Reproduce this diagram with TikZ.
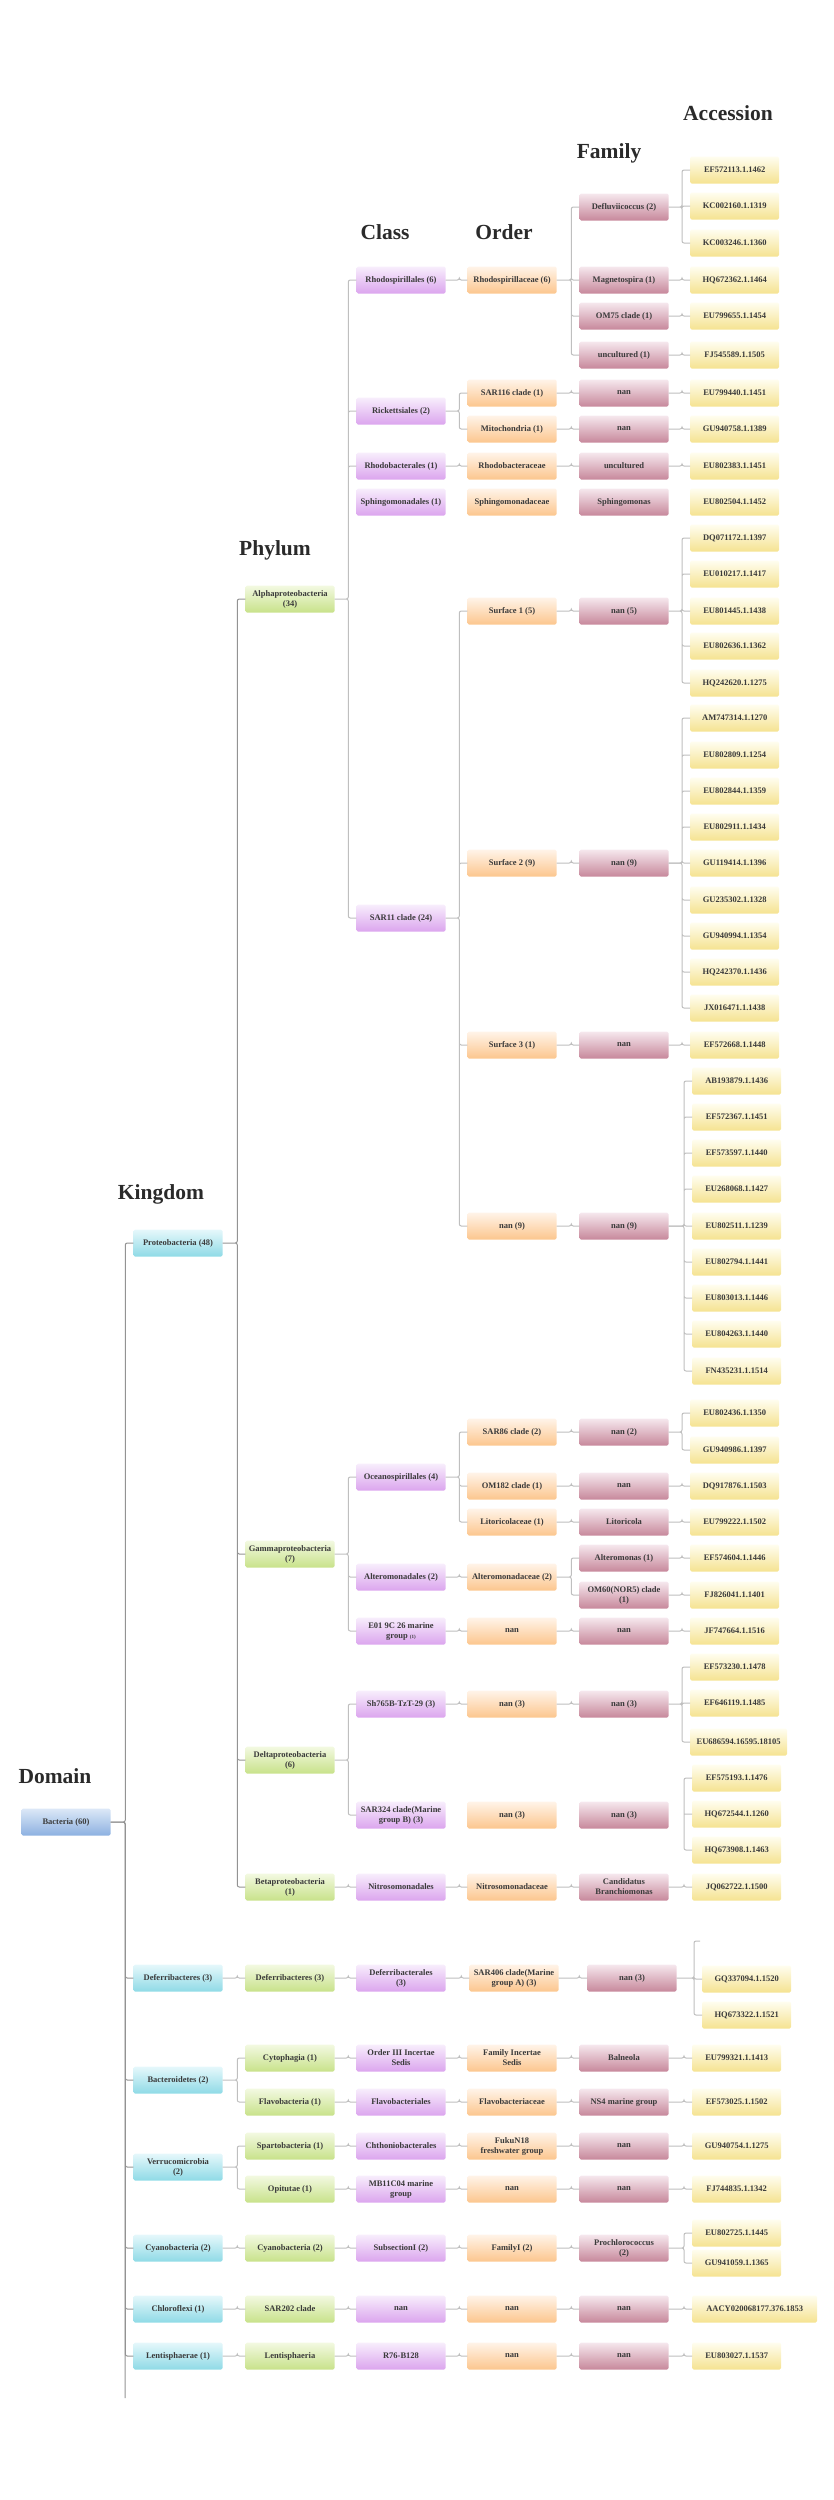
\documentclass[tikz,border=0pt]{standalone}
\usepackage{fontspec}
\setmainfont{Liberation Serif}
\definecolor{txtc}{HTML}{3A3A3A}
\definecolor{headc}{HTML}{2A2A2A}
\definecolor{domt}{HTML}{DCE8F7}
\definecolor{domb}{HTML}{8DB1E1}
\definecolor{kngt}{HTML}{E6F8FB}
\definecolor{kngb}{HTML}{8FDAE6}
\definecolor{phyt}{HTML}{F3F9E2}
\definecolor{phyb}{HTML}{C8E28A}
\definecolor{clst}{HTML}{F8EEFC}
\definecolor{clsb}{HTML}{DBA5EE}
\definecolor{ordt}{HTML}{FFF4E9}
\definecolor{ordb}{HTML}{FCC68E}
\definecolor{famt}{HTML}{F6E8EE}
\definecolor{famb}{HTML}{C7889B}
\definecolor{acct}{HTML}{FFFDF0}
\definecolor{accb}{HTML}{F5E391}

\begin{document}
\begin{tikzpicture}[x=1pt,y=-1pt,
  box/.style={rectangle,rounded corners=1.5pt,minimum width=89pt,minimum height=27pt,inner xsep=2pt,inner ysep=1pt,align=center,text=txtc,font=\bfseries\fontsize{8.5}{10}\selectfont},
  dom/.style={box,top color=domt,bottom color=domb},
  kng/.style={box,top color=kngt,bottom color=kngb},
  phy/.style={box,top color=phyt,bottom color=phyb},
  cls/.style={box,top color=clst,bottom color=clsb},
  ord/.style={box,top color=ordt,bottom color=ordb},
  fam/.style={box,top color=famt,bottom color=famb},
  acc/.style={box,anchor=west,top color=acct,bottom color=accb},
  head/.style={text=headc,font=\bfseries\fontsize{21.5}{24}\selectfont},
  link/.style={draw=gray!50,line width=1pt,rounded corners=2pt},
  trunk/.style={link,draw=gray!85},
  elb/.style={to path={-| ([xshift=-8pt]\tikztotarget.west) -- (\tikztotarget.west)}}]

\useasboundingbox (0,0) rectangle (833,2500);

\node[head] (hacc) at (728,113) {Accession};
\node[head] (hfam) at (609,153) {Family};
\node[head] (hcls) at (385,232) {Class};
\node[head] (hord) at (504,232) {Order};
\node[head] (hphy) at (275,550) {Phylum};
\node[head] (hkng) at (161,1194) {Kingdom};
\node[head] (hdom) at (55,1776) {Domain};

% domain and kingdom
\node[dom] (bac) at (66,1822) {Bacteria (60)};
\node[kng] (prot) at (178,1243) {Proteobacteria (48)};
\node[kng] (defk) at (178,1978) {Deferribacteres (3)};
\node[kng] (bact) at (178,2080) {Bacteroidetes (2)};
\node[kng] (verr) at (178,2167) {Verrucomicrobia\\(2)};
\node[kng] (cyak) at (178,2248) {Cyanobacteria (2)};
\node[kng] (chlo) at (178,2309) {Chloroflexi (1)};
\node[kng] (lent) at (178,2356) {Lentisphaerae (1)};
\coordinate (kend) at (125,2398);

% phylum
\node[phy] (alpha) at (290,599) {Alphaproteobacteria\\(34)};
\node[phy] (gamma) at (290,1554) {Gammaproteobacteria\\(7)};
\node[phy] (delta) at (290,1760) {Deltaproteobacteria\\(6)};
\node[phy] (beta) at (290,1887) {Betaproteobacteria\\(1)};
\node[phy] (defp) at (290,1978) {Deferribacteres (3)};
\node[phy] (cyto) at (290,2058) {Cytophagia (1)};
\node[phy] (flavo) at (290,2102) {Flavobacteria (1)};
\node[phy] (sparto) at (290,2146) {Spartobacteria (1)};
\node[phy] (opit) at (290,2189) {Opitutae (1)};
\node[phy] (cyap) at (290,2248) {Cyanobacteria (2)};
\node[phy] (sar202) at (290,2309) {SAR202 clade};
\node[phy] (lentp) at (290,2356) {Lentisphaeria};

% class
\node[cls] (rhsp) at (401,280) {Rhodospirillales (6)};
\node[cls] (rick) at (401,411) {Rickettsiales (2)};
\node[cls] (rhdb) at (401,466) {Rhodobacterales (1)};
\node[cls] (sphi) at (401,502) {Sphingomonadales (1)};
\node[cls] (sar11) at (401,918) {SAR11 clade (24)};
\node[cls] (ocea) at (401,1477) {Oceanospirillales (4)};
\node[cls] (alte) at (401,1577) {Alteromonadales (2)};
\node[cls] (e01) at (401,1631) {E01 9C 26 marine\\group {\fontsize{5}{6}\selectfont(1)}};
\node[cls] (sh765) at (401,1704) {Sh765B-TzT-29 (3)};
\node[cls] (sar324) at (401,1815) {SAR324 clade(Marine\\group B) (3)};
\node[cls] (nitro) at (401,1887) {Nitrosomonadales};
\node[cls] (defc) at (401,1978) {Deferribacterales\\(3)};
\node[cls] (ord3) at (401,2058) {Order III Incertae\\Sedis};
\node[cls] (flavc) at (401,2102) {Flavobacteriales};
\node[cls] (chth) at (401,2146) {Chthoniobacterales};
\node[cls] (mb11) at (401,2189) {MB11C04 marine\\group};
\node[cls] (subs) at (401,2248) {SubsectionI (2)};
\node[cls] (chlc) at (401,2309) {nan};
\node[cls] (r76) at (401,2356) {R76-B128};

% order
\node[ord] (rhspo) at (512,280) {Rhodospirillaceae (6)};
\node[ord] (sar116) at (512,393) {SAR116 clade (1)};
\node[ord] (mito) at (512,429) {Mitochondria (1)};
\node[ord] (rhdbo) at (512,466) {Rhodobacteraceae};
\node[ord] (sphio) at (512,502) {Sphingomonadaceae};
\node[ord] (surf1) at (512,611) {Surface 1 (5)};
\node[ord] (surf2) at (512,863) {Surface 2 (9)};
\node[ord] (surf3) at (512,1045) {Surface 3 (1)};
\node[ord] (nan9o) at (512,1226) {nan (9)};
\node[ord] (sar86) at (512,1432) {SAR86 clade (2)};
\node[ord] (om182) at (512,1486) {OM182 clade (1)};
\node[ord] (lito) at (512,1522) {Litoricolaceae (1)};
\node[ord] (alteo) at (512,1577) {Alteromonadaceae (2)};
\node[ord] (e01o) at (512,1631) {nan};
\node[ord] (sh765o) at (512,1704) {nan (3)};
\node[ord] (sar324o) at (512,1815) {nan (3)};
\node[ord] (nitroo) at (512,1887) {Nitrosomonadaceae};
\node[ord] (sar406) at (514,1978) {SAR406 clade(Marine\\group A) (3)};
\node[ord] (famis) at (512,2058) {Family Incertae\\Sedis};
\node[ord] (flavoo) at (512,2102) {Flavobacteriaceae};
\node[ord] (fuku) at (512,2146) {FukuN18\\freshwater group};
\node[ord] (mb11o) at (512,2189) {nan};
\node[ord] (fam1) at (512,2248) {FamilyI (2)};
\node[ord] (chlo2) at (512,2309) {nan};
\node[ord] (lento) at (512,2356) {nan};

% family
\node[fam] (defl) at (624,207) {Defluviicoccus (2)};
\node[fam] (magn) at (624,280) {Magnetospira (1)};
\node[fam] (om75) at (624,316) {OM75 clade (1)};
\node[fam] (uncu) at (624,355) {uncultured (1)};
\node[fam] (sar116f) at (624,393) {nan};
\node[fam] (mitof) at (624,429) {nan};
\node[fam] (uncu2) at (624,466) {uncultured};
\node[fam] (sphif) at (624,502) {Sphingomonas};
\node[fam] (surf1f) at (624,611) {nan (5)};
\node[fam] (surf2f) at (624,863) {nan (9)};
\node[fam] (surf3f) at (624,1045) {nan};
\node[fam] (nan9f) at (624,1226) {nan (9)};
\node[fam] (sar86f) at (624,1432) {nan (2)};
\node[fam] (om182f) at (624,1486) {nan};
\node[fam] (litof) at (624,1522) {Litoricola};
\node[fam] (altef) at (624,1558) {Alteromonas (1)};
\node[fam] (om60) at (624,1595) {OM60(NOR5) clade\\(1)};
\node[fam] (e01f) at (624,1631) {nan};
\node[fam] (sh765f) at (624,1704) {nan (3)};
\node[fam] (sar324f) at (624,1815) {nan (3)};
\node[fam] (cand) at (624,1887) {Candidatus\\Branchiomonas};
\node[fam] (sar406f) at (632,1978) {nan (3)};
\node[fam] (baln) at (624,2058) {Balneola};
\node[fam] (ns4) at (624,2102) {NS4 marine group};
\node[fam] (fukuf) at (624,2146) {nan};
\node[fam] (mb11f) at (624,2189) {nan};
\node[fam] (proc) at (624,2248) {Prochlorococcus\\(2)};
\node[fam] (chlf) at (624,2309) {nan};
\node[fam] (lentf) at (624,2356) {nan};

% accession
\node[acc] (a1) at (690,170) {EF572113.1.1462};
\node[acc] (a2) at (690,206) {KC002160.1.1319};
\node[acc] (a3) at (690,243) {KC003246.1.1360};
\node[acc] (a4) at (690,280) {HQ672362.1.1464};
\node[acc] (a5) at (690,316) {EU799655.1.1454};
\node[acc] (a6) at (690,355) {FJ545589.1.1505};
\node[acc] (a7) at (690,393) {EU799440.1.1451};
\node[acc] (a8) at (690,429) {GU940758.1.1389};
\node[acc] (a9) at (690,466) {EU802383.1.1451};
\node[acc] (a10) at (690,502) {EU802504.1.1452};
\node[acc] (a11) at (690,538) {DQ071172.1.1397};
\node[acc] (a12) at (690,574) {EU010217.1.1417};
\node[acc] (a13) at (690,611) {EU801445.1.1438};
\node[acc] (a14) at (690,646) {EU802636.1.1362};
\node[acc] (a15) at (690,683) {HQ242620.1.1275};
\node[acc] (a16) at (690,718) {AM747314.1.1270};
\node[acc] (a17) at (690,755) {EU802809.1.1254};
\node[acc] (a18) at (690,791) {EU802844.1.1359};
\node[acc] (a19) at (690,827) {EU802911.1.1434};
\node[acc] (a20) at (690,863) {GU119414.1.1396};
\node[acc] (a21) at (690,900) {GU235302.1.1328};
\node[acc] (a22) at (690,936) {GU940994.1.1354};
\node[acc] (a23) at (690,972) {HQ242370.1.1436};
\node[acc] (a24) at (690,1008) {JX016471.1.1438};
\node[acc] (a25) at (690,1045) {EF572668.1.1448};
\node[acc] (a26) at (692,1081) {AB193879.1.1436};
\node[acc] (a27) at (692,1117) {EF572367.1.1451};
\node[acc] (a28) at (692,1153) {EF573597.1.1440};
\node[acc] (a29) at (692,1189) {EU268068.1.1427};
\node[acc] (a30) at (692,1226) {EU802511.1.1239};
\node[acc] (a31) at (692,1262) {EU802794.1.1441};
\node[acc] (a32) at (692,1298) {EU803013.1.1446};
\node[acc] (a33) at (692,1334) {EU804263.1.1440};
\node[acc] (a34) at (692,1371) {FN435231.1.1514};
\node[acc] (a35) at (690,1413) {EU802436.1.1350};
\node[acc] (a36) at (690,1450) {GU940986.1.1397};
\node[acc] (a37) at (690,1486) {DQ917876.1.1503};
\node[acc] (a38) at (690,1522) {EU799222.1.1502};
\node[acc] (a39) at (690,1558) {EF574604.1.1446};
\node[acc] (a40) at (690,1595) {FJ826041.1.1401};
\node[acc] (a41) at (690,1631) {JF747664.1.1516};
\node[acc] (a42) at (690,1667) {EF573230.1.1478};
\node[acc] (a43) at (690,1703) {EF646119.1.1485};
\node[acc,minimum width=97pt] (a44) at (690,1742) {EU686594.16595.18105};
\node[acc] (a45) at (692,1778) {EF575193.1.1476};
\node[acc] (a46) at (692,1814) {HQ672544.1.1260};
\node[acc] (a47) at (692,1850) {HQ673908.1.1463};
\node[acc] (a48) at (692,1887) {JQ062722.1.1500};
\coordinate (a00) at (700,1941);
\node[acc] (a49) at (702,1979) {GQ337094.1.1520};
\node[acc] (a50) at (702,2015) {HQ673322.1.1521};
\node[acc] (a51) at (692,2058) {EU799321.1.1413};
\node[acc] (a52) at (692,2102) {EF573025.1.1502};
\node[acc] (a53) at (692,2146) {GU940754.1.1275};
\node[acc] (a54) at (692,2189) {FJ744835.1.1342};
\node[acc] (a55) at (692,2233) {EU802725.1.1445};
\node[acc] (a56) at (692,2263) {GU941059.1.1365};
\node[acc,minimum width=125pt] (a57) at (692,2309) {AACY020068177.376.1853};
\node[acc] (a58) at (692,2356) {EU803027.1.1537};

% domain -> kingdom -> phylum
\draw[trunk] (bac.east) -| (kend);
\draw[trunk] (bac.east) to[elb] (prot) (bac.east) to[elb] (defk) (bac.east) to[elb] (bact) (bac.east) to[elb] (verr) (bac.east) to[elb] (cyak) (bac.east) to[elb] (chlo) (bac.east) to[elb] (lent);
\draw[trunk] (prot.east) to[elb] (alpha) (prot.east) to[elb] (gamma) (prot.east) to[elb] (delta) (prot.east) to[elb] (beta);
\draw[link] (defk.east) to[elb] (defp) (bact.east) to[elb] (cyto) (bact.east) to[elb] (flavo) (verr.east) to[elb] (sparto) (verr.east) to[elb] (opit);
\draw[link] (cyak.east) to[elb] (cyap) (chlo.east) to[elb] (sar202) (lent.east) to[elb] (lentp);

% Alphaproteobacteria
\draw[link] (alpha.east) to[elb] (rhsp) (alpha.east) to[elb] (rick) (alpha.east) to[elb] (rhdb) (alpha.east) to[elb] (sar11);
\draw[link] (rhsp.east) to[elb] (rhspo);
\draw[link] (rhspo.east) to[elb] (defl) (rhspo.east) to[elb] (magn) (rhspo.east) to[elb] (om75) (rhspo.east) to[elb] (uncu);
\draw[link] (defl.east) to[elb] (a1) (defl.east) to[elb] (a2) (defl.east) to[elb] (a3);
\draw[link] (magn.east) to[elb] (a4) (om75.east) to[elb] (a5) (uncu.east) to[elb] (a6);
\draw[link] (rick.east) to[elb] (sar116) (rick.east) to[elb] (mito);
\draw[link] (sar116.east) to[elb] (sar116f) (sar116f.east) to[elb] (a7);
\draw[link] (mito.east) to[elb] (mitof) (mitof.east) to[elb] (a8);
\draw[link] (rhdb.east) to[elb] (rhdbo) (rhdbo.east) to[elb] (uncu2) (uncu2.east) to[elb] (a9);
\draw[link] (sar11.east) to[elb] (surf1) (sar11.east) to[elb] (surf2) (sar11.east) to[elb] (surf3) (sar11.east) to[elb] (nan9o);
\draw[link] (surf1.east) to[elb] (surf1f);
\draw[link] (surf1f.east) to[elb] (a11) (surf1f.east) to[elb] (a12) (surf1f.east) to[elb] (a13) (surf1f.east) to[elb] (a14) (surf1f.east) to[elb] (a15);
\draw[link] (surf2.east) to[elb] (surf2f);
\draw[link] (surf2f.east) to[elb] (a16) (surf2f.east) to[elb] (a17) (surf2f.east) to[elb] (a18) (surf2f.east) to[elb] (a19) (surf2f.east) to[elb] (a20);
\draw[link] (surf2f.east) to[elb] (a21) (surf2f.east) to[elb] (a22) (surf2f.east) to[elb] (a23) (surf2f.east) to[elb] (a24);
\draw[link] (surf3.east) to[elb] (surf3f) (surf3f.east) to[elb] (a25);
\draw[link] (nan9o.east) to[elb] (nan9f);
\draw[link] (nan9f.east) to[elb] (a26) (nan9f.east) to[elb] (a27) (nan9f.east) to[elb] (a28) (nan9f.east) to[elb] (a29) (nan9f.east) to[elb] (a30);
\draw[link] (nan9f.east) to[elb] (a31) (nan9f.east) to[elb] (a32) (nan9f.east) to[elb] (a33) (nan9f.east) to[elb] (a34);

% Gammaproteobacteria
\draw[link] (gamma.east) to[elb] (ocea) (gamma.east) to[elb] (alte) (gamma.east) to[elb] (e01);
\draw[link] (ocea.east) to[elb] (sar86) (ocea.east) to[elb] (om182) (ocea.east) to[elb] (lito);
\draw[link] (sar86.east) to[elb] (sar86f) (sar86f.east) to[elb] (a35) (sar86f.east) to[elb] (a36);
\draw[link] (om182.east) to[elb] (om182f) (om182f.east) to[elb] (a37);
\draw[link] (lito.east) to[elb] (litof) (litof.east) to[elb] (a38);
\draw[link] (alte.east) to[elb] (alteo) (alteo.east) to[elb] (altef) (alteo.east) to[elb] (om60);
\draw[link] (altef.east) to[elb] (a39) (om60.east) to[elb] (a40);
\draw[link] (e01.east) to[elb] (e01o) (e01o.east) to[elb] (e01f) (e01f.east) to[elb] (a41);

% Delta- and Betaproteobacteria
\draw[link] (delta.east) to[elb] (sh765) (delta.east) to[elb] (sar324);
\draw[link] (sh765.east) to[elb] (sh765o) (sh765o.east) to[elb] (sh765f);
\draw[link] (sh765f.east) to[elb] (a42) (sh765f.east) to[elb] (a43) (sh765f.east) to[elb] (a44);
\draw[link] (a45.west) -| ([xshift=-8pt]a47.west) -- (a47.west) ([xshift=-8pt]a46.west) -- (a46.west);
\draw[link] (beta.east) to[elb] (nitro) (nitro.east) to[elb] (nitroo) (nitroo.east) to[elb] (cand) (cand.east) to[elb] (a48);

% other kingdoms
\draw[link] (defp.east) to[elb] (defc) (defc.east) to[elb] (sar406) (sar406.east) to[elb] (sar406f);
\draw[link] (sar406f.east) -| ([xshift=-6pt]a00) -- (a00) (sar406f.east) to[elb] (a49) (sar406f.east) to[elb] (a50);
\draw[link] (cyto.east) to[elb] (ord3) (ord3.east) to[elb] (famis) (famis.east) to[elb] (baln) (baln.east) to[elb] (a51);
\draw[link] (flavo.east) to[elb] (flavc) (flavc.east) to[elb] (flavoo) (flavoo.east) to[elb] (ns4) (ns4.east) to[elb] (a52);
\draw[link] (sparto.east) to[elb] (chth) (chth.east) to[elb] (fuku) (fuku.east) to[elb] (fukuf) (fukuf.east) to[elb] (a53);
\draw[link] (opit.east) to[elb] (mb11) (mb11.east) to[elb] (mb11o) (mb11o.east) to[elb] (mb11f) (mb11f.east) to[elb] (a54);
\draw[link] (cyap.east) to[elb] (subs) (subs.east) to[elb] (fam1) (fam1.east) to[elb] (proc);
\draw[link] (proc.east) to[elb] (a55) (proc.east) to[elb] (a56);
\draw[link] (sar202.east) to[elb] (chlc) (chlc.east) to[elb] (chlo2) (chlo2.east) to[elb] (chlf) (chlf.east) to[elb] (a57);
\draw[link] (lentp.east) to[elb] (r76) (r76.east) to[elb] (lento) (lento.east) to[elb] (lentf) (lentf.east) to[elb] (a58);

\end{tikzpicture}
\end{document}
